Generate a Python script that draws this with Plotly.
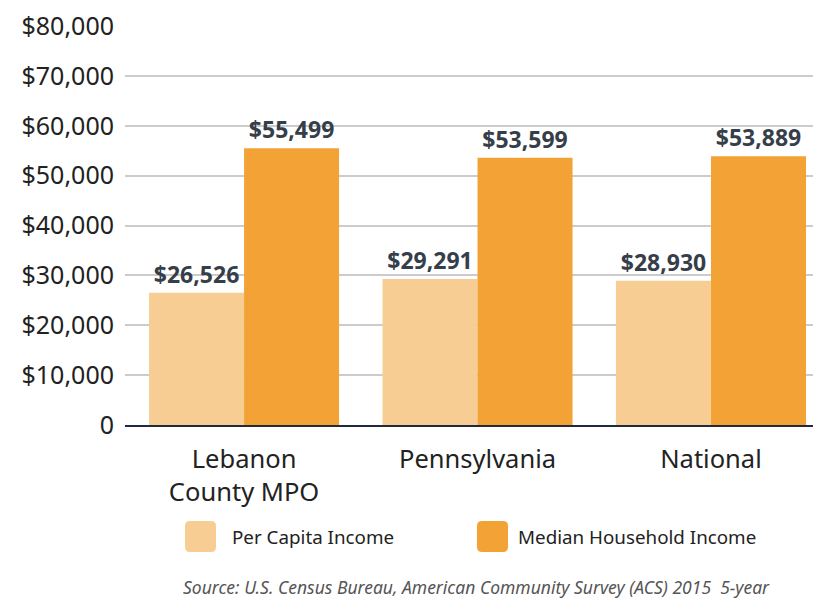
import plotly.graph_objects as go

# Income comparison data (US dollars)
regions = ["Lebanon County MPO", "Pennsylvania", "National"]
region_labels = ["Lebanon<br>County MPO", "Pennsylvania", "National"]
per_capita_income = [26526, 29291, 28930]
median_household_income = [55499, 53599, 53889]
y_ticks = [0, 10000, 20000, 30000, 40000, 50000, 60000, 70000, 80000]
y_tick_text = ["0", "$10,000", "$20,000", "$30,000", "$40,000",
               "$50,000", "$60,000", "$70,000", "$80,000"]
series_names = ["Per Capita Income", "Median Household Income"]

LIGHT = "#F7CD93"
DARK = "#F3A335"
FONT = "Noto Sans"
LABEL_COLOR = "#353e49"
TEXT_COLOR = "#222222"

x_pos = list(range(len(regions)))

fig = go.Figure()
for name, values, color in [
    (series_names[0], per_capita_income, LIGHT),
    (series_names[1], median_household_income, DARK),
]:
    fig.add_trace(go.Bar(
        x=x_pos,
        y=values,
        name=name,
        marker=dict(color=color, line=dict(width=0)),
        text=[f"${v:,}" for v in values],
        textposition="outside",
        textfont=dict(family=FONT, size=23, color=LABEL_COLOR, weight="bold"),
        cliponaxis=False,
        hovertext=regions,
    ))

# Custom legend: rounded swatches with labels underneath the chart
def rounded_rect(x0, x1, y0, y1, rx, ry):
    return (f"M{x0+rx},{y0} L{x1-rx},{y0} Q{x1},{y0} {x1},{y0+ry} "
            f"L{x1},{y1-ry} Q{x1},{y1} {x1-rx},{y1} L{x0+rx},{y1} "
            f"Q{x0},{y1} {x0},{y1-ry} L{x0},{y0+ry} Q{x0},{y0} {x0+rx},{y0} Z")

shapes = []
annotations = []
legend_items = [
    (series_names[0], LIGHT, 0.0872, 0.1323, 0.1526),
    (series_names[1], DARK, 0.5116, 0.5567, 0.5683),
]
for name, color, sx0, sx1, tx in legend_items:
    shapes.append(dict(
        type="path", xref="paper", yref="paper",
        path=rounded_rect(sx0, sx1, -0.3183, -0.2406, 0.0073, 0.0125),
        fillcolor=color, line=dict(width=0),
    ))
    annotations.append(dict(
        text=name, xref="paper", yref="paper", x=tx, y=-0.2807,
        xanchor="left", yanchor="middle", showarrow=False,
        font=dict(family=FONT, size=18.8, color=TEXT_COLOR),
    ))

annotations.append(dict(
    text="Source: U.S. Census Bureau, American Community Survey (ACS) 2015  5-year",
    xref="paper", yref="paper", x=0.5116, y=-0.406,
    xanchor="center", yanchor="middle", showarrow=False,
    font=dict(family=FONT, size=17.5, color="#555555", style="italic"),
))

fig.update_layout(
    width=813, height=599,
    margin=dict(l=125, r=0, t=26, b=174),
    paper_bgcolor="white", plot_bgcolor="white",
    barmode="group", bargap=0.186, bargroupgap=0,
    showlegend=False,
    font=dict(family=FONT, color=TEXT_COLOR),
    shapes=shapes,
    annotations=annotations,
    xaxis=dict(
        range=[-0.51, 2.437],
        tickvals=x_pos, ticktext=region_labels,
        tickfont=dict(family=FONT, size=25.5, color=TEXT_COLOR),
        showgrid=False, zeroline=False,
        showline=True, linecolor="#1f2a3c", linewidth=2,
        ticks="", ticklabelstandoff=10,
        fixedrange=True,
    ),
    yaxis=dict(
        range=[0, 80000],
        tickvals=y_ticks, ticktext=y_tick_text,
        tickfont=dict(family=FONT, size=25, color=TEXT_COLOR),
        showgrid=True, gridcolor="#cccccc", gridwidth=1.5,
        zeroline=False, showline=False,
        ticks="", ticklabelstandoff=10,
        fixedrange=True,
    ),
)

fig.write_html("out.html")
